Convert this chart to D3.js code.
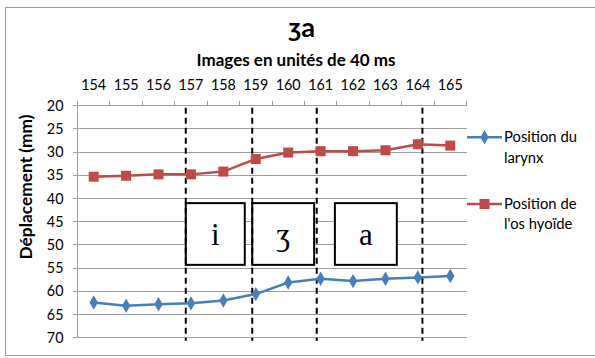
<!DOCTYPE html>
<html><head><meta charset="utf-8">
<script src="https://cdn.jsdelivr.net/npm/d3@7"></script>
<style>body{margin:0;background:#fff}svg{display:block}</style>
</head><body>
<svg id="c" width="595" height="358"></svg>
<script>
const categories = [154,155,156,157,158,159,160,161,162,163,164,165];
const larynx = [62.4,63.1,62.8,62.6,62.0,60.6,58.1,57.3,57.8,57.3,57.0,56.7];
const hyoide = [35.3,35.1,34.8,34.8,34.2,31.5,30.1,29.8,29.8,29.6,28.3,28.6];
const yTicks = [20,25,30,35,40,45,50,55,60,65,70];
const dividers = [156.84,158.89,160.88,164.14];
const phonemes = ["i","ʒ","a"];
const phonemeStart = [156.84,158.89,161.44];
const phonemeEnd = [158.66,160.80,163.35];
const phonemeTop = 41.0, phonemeBottom = 54.3;
const seriesNames = [["Position du","larynx"],["Position de","l'os hyoïde"]];
const colors = ["#4a7ebb","#be4b48"];

const SANS = "Lato,'Open Sans',sans-serif";
const SERIF = "'Liberation Serif','DejaVu Serif',serif";
const svg = d3.select("#c");
function fit(sel, w){
  const n = sel.node(); const fs = parseFloat(sel.attr("font-size"));
  const len = n.getComputedTextLength(); if(len>0) sel.attr("font-size", fs*w/len);
  return sel;
}
function txt(x,y,t,fs,opts={}){
  const s = svg.append("text").attr("x",x).attr("y",y).attr("font-family",opts.family||SANS)
    .attr("font-size",fs).attr("text-anchor",opts.anchor||"start").attr("fill","#000").text(t);
  if(opts.bold) s.attr("font-weight","bold");
  return s;
}

const L = 77.5, R = 466.5, T = 105.7, B = 337.7;
svg.append("rect").attr("x",5.5).attr("y",7.5).attr("width",600).attr("height",348).attr("fill","none").attr("stroke","#a0a0a0");

const xb = d3.scaleBand().domain(categories).range([L,R]);
const xl = d3.scaleLinear().domain([categories[0]-0.5, categories[categories.length-1]+0.5]).range([L,R]);
const y = d3.scaleLinear().domain([20,70]).range([T,B]);
const cx = d => xb(d)+xb.bandwidth()/2;

const probe = txt(0,-50,"154",12); fit(probe,25); const tickFs = +probe.attr("font-size"); probe.remove();
const probe2 = txt(0,-50,"Position du",12); fit(probe2,73); const legFs = +probe2.attr("font-size"); probe2.remove();

svg.append("g").selectAll("line").data(yTicks).join("line")
  .attr("x1",L-5).attr("x2",R).attr("y1",d=>y(d)).attr("y2",d=>y(d))
  .attr("stroke","#a0a0a0").attr("stroke-width",1).attr("shape-rendering","crispEdges");
svg.append("line").attr("x1",L).attr("x2",L).attr("y1",T).attr("y2",B).attr("stroke","#a0a0a0").attr("shape-rendering","crispEdges");
const bounds = categories.map(c=>xb(c)).concat([R]);
svg.append("g").selectAll("line").data(bounds).join("line")
  .attr("x1",d=>d).attr("x2",d=>d).attr("y1",T-5).attr("y2",T)
  .attr("stroke","#a0a0a0").attr("shape-rendering","crispEdges");
yTicks.forEach(d=>txt(L-14,y(d)+5,d,tickFs,{anchor:"end"}));
categories.forEach(d=>txt(cx(d),89.5,d,tickFs,{anchor:"middle"}));

fit(txt(302,37,"ʒa",20,{anchor:"middle",bold:true}),26);
fit(txt(296,66,"Images en unités de 40 ms",13,{anchor:"middle",bold:true}),199);
const yt = txt(0,0,"Déplacement (mm)",13,{anchor:"middle",bold:true}).attr("transform","translate(32,187) rotate(-90)");
fit(yt,145);

const boxes = phonemes.map((p,i)=>({p, x0:phonemeStart[i], x1:phonemeEnd[i]}));
boxes.forEach(d=>{
  svg.append("rect").attr("x",xl(d.x0)).attr("width",xl(d.x1)-xl(d.x0))
    .attr("y",y(phonemeTop)).attr("height",y(phonemeBottom)-y(phonemeTop))
    .attr("fill","#fff").attr("stroke","#000").attr("stroke-width",2);
  txt((xl(d.x0)+xl(d.x1))/2, 244.5, d.p, 31, {anchor:"middle",family:SERIF});
});

svg.append("g").selectAll("line").data(dividers).join("line")
  .attr("x1",d=>xl(d)).attr("x2",d=>xl(d)).attr("y1",T+2).attr("y2",B+3)
  .attr("stroke","#000").attr("stroke-width",2).attr("stroke-dasharray","6,4");

const line = d3.line().x((d,i)=>cx(categories[i])).y(d=>y(d));
const sym = k => (k===0?d3.symbol().type(d3.symbolDiamond).size(60):d3.symbol().type(d3.symbolSquare).size(100))();
[larynx,hyoide].forEach((s,k)=>{
  svg.append("path").attr("d",line(s)).attr("fill","none").attr("stroke",colors[k]).attr("stroke-width",2.5);
  svg.append("g").selectAll("path").data(s).join("path")
    .attr("transform",(d,i)=>`translate(${cx(categories[i])},${y(d)})`)
    .attr("fill",colors[k]).attr("d",sym(k));
});

const ly = [137.3,204];
seriesNames.forEach((nm,k)=>{
  svg.append("line").attr("x1",467).attr("x2",502).attr("y1",ly[k]).attr("y2",ly[k]).attr("stroke",colors[k]).attr("stroke-width",2.5);
  svg.append("path").attr("transform",`translate(484.5,${ly[k]})`).attr("d",sym(k)).attr("fill",colors[k]);
  nm.forEach((t,j)=>txt(504,ly[k]+4.8+j*20.5,t,legFs));
});
</script>
</body></html>
